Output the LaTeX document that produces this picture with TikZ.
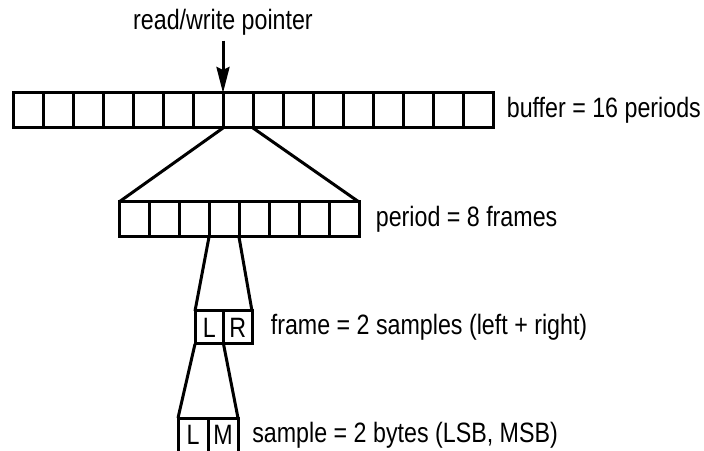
\documentclass[tikz,border=0pt]{standalone}
\usepackage{fontspec}
\setmainfont{Liberation Sans}[FakeStretch=0.83]
\usepackage{tikz}
\usetikzlibrary{arrows.meta}
\usetikzlibrary{positioning}

\begin{document}
\begin{tikzpicture}[x=1pt,y=1pt,>={Stealth[length=26pt,width=13pt,inset=3pt]},line width=3pt,
    cell/.style={rectangle,draw,line width=3pt,minimum width=30pt,minimum height=35pt,inner sep=0pt,outer sep=0pt,font=\fontsize{28pt}{30pt}\selectfont},
    desc/.style={font=\fontsize{28pt}{30pt}\selectfont}]

    \useasboundingbox (0,0) rectangle (704,450);

    % buffer
    \node[cell] (b0) at (28,339.5) {};
    \node[cell,on grid,right=30pt of b0] (b1) {};
    \node[cell,on grid,right=30pt of b1] (b2) {};
    \node[cell,on grid,right=30pt of b2] (b3) {};
    \node[cell,on grid,right=30pt of b3] (b4) {};
    \node[cell,on grid,right=30pt of b4] (b5) {};
    \node[cell,on grid,right=30pt of b5] (b6) {};
    \node[cell,on grid,right=30pt of b6] (b7) {};
    \node[cell,on grid,right=30pt of b7] (b8) {};
    \node[cell,on grid,right=30pt of b8] (b9) {};
    \node[cell,on grid,right=30pt of b9] (b10) {};
    \node[cell,on grid,right=30pt of b10] (b11) {};
    \node[cell,on grid,right=30pt of b11] (b12) {};
    \node[cell,on grid,right=30pt of b12] (b13) {};
    \node[cell,on grid,right=30pt of b13] (b14) {};
    \node[cell,on grid,right=30pt of b14] (b15) {};

    % period
    \node[cell] (p0) at (134,230.5) {};
    \node[cell,on grid,right=30pt of p0] (p1) {};
    \node[cell,on grid,right=30pt of p1] (p2) {};
    \node[cell,on grid,right=30pt of p2] (p3) {};
    \node[cell,on grid,right=30pt of p3] (p4) {};
    \node[cell,on grid,right=30pt of p4] (p5) {};
    \node[cell,on grid,right=30pt of p5] (p6) {};
    \node[cell,on grid,right=30pt of p6] (p7) {};

    % frame
    \node[cell,minimum width=28.5pt,minimum height=33pt] (f0) at (209.25,122.5) {L};
    \node[cell,minimum width=28.5pt,minimum height=33pt,on grid,right=28.5pt of f0] (f1) {R};

    % sample
    \node[cell,minimum height=34pt] (s0) at (193,15) {L};
    \node[cell,minimum height=34pt,on grid,right=30pt of s0] (s1) {M};

    \node[desc,right=9pt of b15] (buffer) {buffer = 16 periods};
    \node[desc,right=12pt of p7] (period) {period = 8 frames};
    \node[desc,right=14pt of f1] (frame) {frame = 2 samples (left + right)};
    \node[desc,right=9.5pt of s1] (sample) {sample = 2 bytes (LSB, MSB)};

    \node[desc,anchor=base] (pointer) at (223,420) {read/write pointer};

    \draw[->] (pointer) -- (b7.north west);

    \draw (b7.south west) -- (p0.north west);
    \draw (b7.south east) -- (p7.north east);
    \draw (p3.south west) -- (f0.north west);
    \draw (p3.south east) -- (f1.north east);
    \draw (f0.south west) -- (s0.north west);
    \draw (f0.south east) -- (s1.north east);

\end{tikzpicture}
\end{document}
